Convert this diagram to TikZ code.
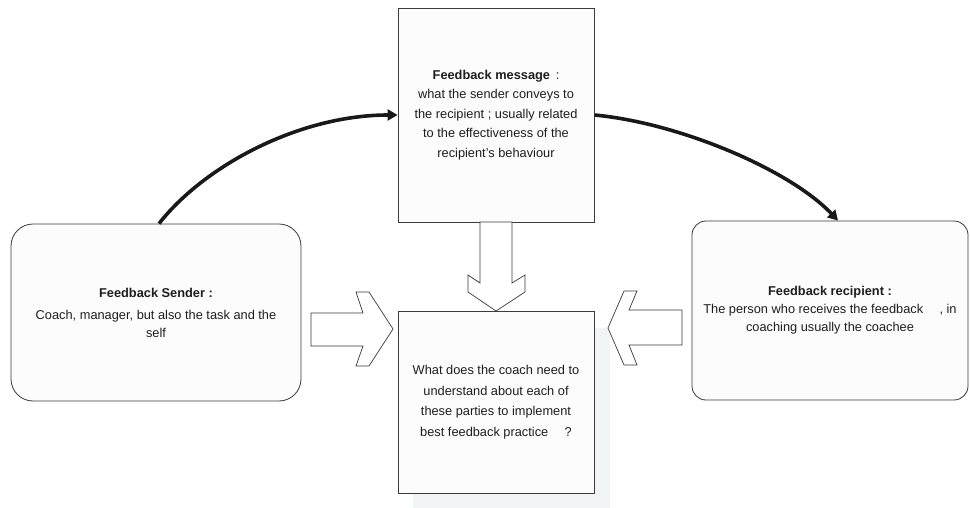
\documentclass[tikz,border=0pt]{standalone}
\usepackage{fontspec}
\setmainfont{Liberation Sans}
\usetikzlibrary{arrows.meta}
\definecolor{boxfill}{HTML}{FCFCFC}
\definecolor{shadowc}{HTML}{F1F4F4}
\definecolor{edge}{HTML}{3A3A3A}
\definecolor{txt}{HTML}{1E1E1E}
\begin{document}
\begin{tikzpicture}[x=1pt,y=-1pt,
  box/.style={draw=edge, line width=0.8pt, fill=boxfill, text=txt, align=center, inner sep=0pt},
  fatarrow/.style={draw=edge, line width=0.7pt, fill=white, line join=miter},
  curve/.style={line width=3.6pt, draw=black!90, -{Triangle[length=10pt,width=11pt]}}]
\useasboundingbox (0,0) rectangle (970,508);
% shadow of the question box
\fill[shadowc] (413,328) rectangle (610,508);
% boxes
\node[box, minimum width=196pt, minimum height=214pt, font=\fontsize{12.8}{19.5}\selectfont] (msg) at (496,115)
  {\textbf{Feedback message}\, :\\ what the sender conveys to\\ the recipient ; usually related\\ to the effectiveness of the\\ recipient’s behaviour};
\node[box, rounded corners=22pt, minimum width=290pt, minimum height=177pt, font=\fontsize{12.8}{18}\selectfont] (sender) at (156,312.5)
  {\textbf{Feedback Sender :}\\[4pt] Coach, manager, but also the task and the\\ self};
\node[box, rounded corners=14pt, minimum width=276pt, minimum height=179pt, font=\fontsize{12.8}{18}\selectfont] (recip) at (830,310.5)
  {\textbf{Feedback recipient :}\\ The person who receives the feedback \quad, in\\ coaching usually the coachee};
\node[box, minimum width=196pt, minimum height=182pt, font=\fontsize{12.8}{20.5}\selectfont] (quest) at (496,402)
  {What does the coach need to\\ understand about each of\\ these parties to implement\\ best feedback practice \quad ?};
% block arrows
\draw[fatarrow] (480,222) -- (480,283) -- (468,275) -- (468,292) -- (496,311) -- (525,292) -- (525,275) -- (512,283) -- (512,222) -- cycle;
\draw[fatarrow] (311,313) -- (363,313) -- (356,292) -- (369,292) -- (393,329) -- (369,366) -- (356,366) -- (363,346) -- (311,346) -- cycle;
\draw[fatarrow] (682,310) -- (629,310) -- (637,291) -- (624,291) -- (608,328) -- (624,365) -- (637,365) -- (629,345) -- (682,345) -- cycle;
% curved connectors
\draw[curve] ([xshift=3pt]sender.north) .. controls (205,165) and (300,115) .. (msg.west);
\draw[curve] (msg.east) .. controls (680,123) and (790,170) .. ([xshift=8pt]recip.north);
\end{tikzpicture}
\end{document}
